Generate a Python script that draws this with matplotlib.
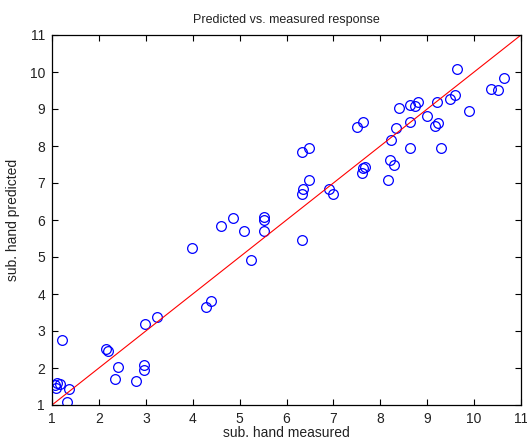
import matplotlib
matplotlib.use("Agg")
import matplotlib.pyplot as plt
import numpy as np

plt.rcParams['font.family'] = ['Liberation Sans', 'DejaVu Sans']

# measured vs predicted values
measured = [1.06, 1.09, 1.11, 1.16, 1.21, 1.37, 1.31, 2.15, 2.20, 2.34,
            2.41, 2.80, 2.97, 2.97, 2.98, 3.24, 3.99, 4.28, 4.40, 4.60,
            4.85, 5.09, 5.24, 5.51, 5.51, 5.51, 6.33, 6.33, 6.49, 6.33,
            6.35, 6.49, 6.91, 7.00, 7.50, 7.64, 7.62, 7.64, 7.68, 8.17,
            8.21, 8.29, 8.23, 8.34, 8.39, 8.64, 8.64, 8.64, 8.75, 8.80,
            9.00, 9.17, 9.22, 9.21, 9.30, 9.48, 9.59, 9.63, 9.90, 10.36,
            10.52, 10.63]
predicted = [1.54, 1.45, 1.59, 1.57, 2.76, 1.42, 1.09, 2.51, 2.47, 1.71,
             2.04, 1.66, 2.07, 1.95, 3.18, 3.39, 5.23, 3.64, 3.80, 5.84,
             6.05, 5.70, 4.91, 6.08, 6.01, 5.70, 5.47, 7.83, 7.95, 6.71,
             6.84, 7.09, 6.84, 6.69, 8.51, 8.65, 7.27, 7.41, 7.43, 7.09,
             7.61, 7.48, 8.16, 8.48, 9.03, 7.95, 8.64, 9.11, 9.09, 9.20,
             8.81, 8.55, 8.63, 9.19, 7.95, 9.26, 9.38, 10.09, 8.94, 9.53,
             9.51, 9.84]
ref_line = [1, 11]
ticks = list(range(1, 12))

fig = plt.figure(figsize=(5.27, 4.41), dpi=100)
ax = fig.add_axes([52/527, 1-405/441, (521-52)/527, (405-35)/441])

ax.plot(measured, predicted, linestyle='none', marker='o', markersize=7,
        markerfacecolor='none', markeredgecolor='#0000ff', markeredgewidth=0.9)
ax.plot(ref_line, ref_line, color='#ff0000', linewidth=0.8)

ax.set_xlim(1, 11)
ax.set_ylim(1, 11)
ax.set_xticks(ticks)
ax.set_yticks(ticks)
ax.tick_params(direction='in', top=True, right=True, length=4, width=0.8,
               labelsize=10, pad=5, labelcolor='#222222')
for s in ax.spines.values():
    s.set_linewidth(0.9)
    s.set_color('black')

ax.set_title('Predicted vs. measured response', fontsize=9, pad=9,
             color='#222222')
ax.set_xlabel('sub. hand measured', fontsize=10, labelpad=0, color='#222222')
ax.set_ylabel('sub. hand predicted', fontsize=10, labelpad=7, color='#222222')

fig.savefig('out.png', dpi=100)
